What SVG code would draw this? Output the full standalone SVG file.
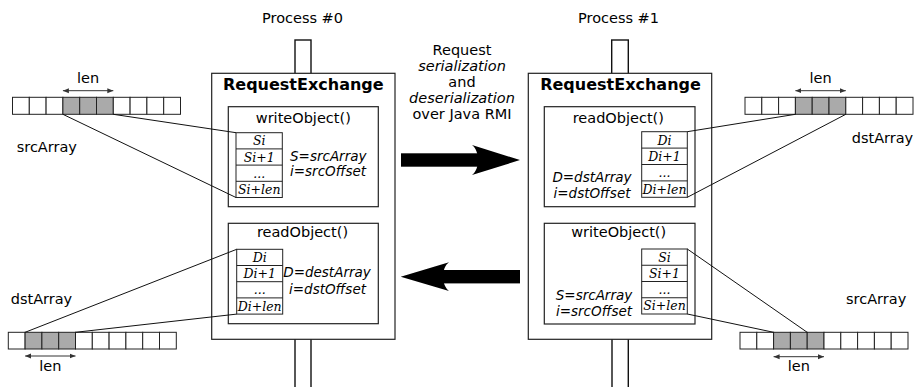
<svg xmlns="http://www.w3.org/2000/svg" width="914" height="387" viewBox="0 0 914 387">
<style>
text{font-family:"DejaVu Sans","Liberation Sans",sans-serif;fill:#000}
.lbl{font-size:14.5px}
.mid{text-anchor:middle}
.ti{font-size:16px;font-weight:bold;text-anchor:middle}
.it{font-style:italic;font-size:13.5px}
.cell{font-family:"DejaVu Serif","Liberation Serif",serif;font-style:italic;font-size:12.5px;text-anchor:middle}
.box{fill:#fff;stroke:#222;stroke-width:1.2}
.tab{fill:#fff;stroke:#222;stroke-width:1}
.pipe{fill:none;stroke:#111;stroke-width:1.4}
.c{fill:#fff;stroke:#222;stroke-width:1}
.g{fill:#aaa;stroke:#222;stroke-width:1}
.con{stroke:#111;stroke-width:1;fill:none}
.len{stroke:#333;stroke-width:1;fill:none;marker-start:url(#ah);marker-end:url(#ah)}
</style>
<defs>
<marker id="ah" markerUnits="userSpaceOnUse" markerWidth="7" markerHeight="6" refX="6" refY="3" orient="auto-start-reverse">
<path d="M0,0.5 L6,3 L0,5.5 Z" fill="#333"/>
</marker>
</defs>

<g id="process0">
<text class="lbl" x="262" y="23">Process #0</text>
<rect class="pipe" x="295" y="40" width="16" height="34"/>
<path class="pipe" d="M295,339 V387 M311,339 V387"/>
<rect class="box" x="211.7" y="73.3" width="183.3" height="266"/>
<text class="ti" x="303.3" y="90">RequestExchange</text>
<g id="p0-write">
<rect class="box" x="228.3" y="106.7" width="150" height="100"/>
<text class="lbl mid" x="303.3" y="122.5">writeObject()</text>
<rect class="tab" x="236" y="132.7" width="46.3" height="64.8"/>
<path class="tab" d="M236,148.9 H282.3 M236,165.1 H282.3 M236,181.3 H282.3"/>
<text class="cell" x="259.2" y="145.3">Si</text>
<text class="cell" x="259.2" y="161.5">Si+1</text>
<text class="cell" x="259.2" y="177.7">...</text>
<text class="cell" x="259.2" y="193.9">Si+len</text>
<text class="it" x="290" y="160.5">S=srcArray</text>
<text class="it" x="290" y="176">i=srcOffset</text>
</g>
<g id="p0-read">
<rect class="box" x="228.3" y="223.3" width="150" height="100.4"/>
<text class="lbl mid" x="302.5" y="237.3">readObject()</text>
<rect class="tab" x="236.7" y="249.3" width="46" height="64.8"/>
<path class="tab" d="M236.7,265.5 H282.7 M236.7,281.7 H282.7 M236.7,297.9 H282.7"/>
<text class="cell" x="259.7" y="261.9">Di</text>
<text class="cell" x="259.7" y="278.1">Di+1</text>
<text class="cell" x="259.7" y="294.3">...</text>
<text class="cell" x="259.7" y="310.5">Di+len</text>
<text class="it mid" x="327" y="277">D=destArray</text>
<text class="it mid" x="327.5" y="293.5">i=dstOffset</text>
</g>
</g>

<g id="process1">
<text class="lbl" x="578" y="23">Process #1</text>
<rect class="pipe" x="611.7" y="40" width="16.6" height="34"/>
<path class="pipe" d="M612,339 V387 M628.3,339 V387"/>
<rect class="box" x="528.3" y="73.3" width="183.4" height="266"/>
<text class="ti" x="620.5" y="90">RequestExchange</text>
<g id="p1-read">
<rect class="box" x="544.3" y="106.7" width="150.7" height="100"/>
<text class="lbl mid" x="618.3" y="122.5">readObject()</text>
<rect class="tab" x="641.7" y="131.7" width="45.6" height="65.6"/>
<path class="tab" d="M641.7,148.1 H687.3 M641.7,164.5 H687.3 M641.7,180.9 H687.3"/>
<text class="cell" x="664.5" y="144.5">Di</text>
<text class="cell" x="664.5" y="160.9">Di+1</text>
<text class="cell" x="664.5" y="177.3">...</text>
<text class="cell" x="664.5" y="193.7">Di+len</text>
<text class="it mid" x="592" y="182">D=dstArray</text>
<text class="it mid" x="592" y="197.7">i=dstOffset</text>
</g>
<g id="p1-write">
<rect class="box" x="544.3" y="223.3" width="150.7" height="100.7"/>
<text class="lbl mid" x="618.7" y="237.3">writeObject()</text>
<rect class="tab" x="641.7" y="249" width="45.6" height="65"/>
<path class="tab" d="M641.7,265.25 H687.3 M641.7,281.5 H687.3 M641.7,297.75 H687.3"/>
<text class="cell" x="664.5" y="261.6">Si</text>
<text class="cell" x="664.5" y="277.8">Si+1</text>
<text class="cell" x="664.5" y="294.1">...</text>
<text class="cell" x="664.5" y="310.3">Si+len</text>
<text class="it mid" x="594" y="300">S=srcArray</text>
<text class="it mid" x="594" y="316">i=srcOffset</text>
</g>
</g>

<g id="transport">
<text class="lbl mid" x="462" y="55">Request</text>
<text class="lbl mid" x="462" y="71" font-style="italic">serialization</text>
<text class="lbl mid" x="462" y="87">and</text>
<text class="lbl mid" x="462" y="103" font-style="italic">deserialization</text>
<text class="lbl mid" x="462" y="119">over Java RMI</text>
<g id="arrow-right">
<rect x="401" y="153.3" width="79" height="13.4" fill="#000"/>
<path d="M520,160 L472,145 C480,151 480,169 472,175 Z" fill="#000"/>
</g>
<g id="arrow-left">
<rect x="442" y="270" width="78" height="13.4" fill="#000"/>
<path d="M400.7,276.7 L449,262.3 C441,268 441,285 449,291 Z" fill="#000"/>
</g>
</g>

<g id="srcArray-0">
<rect class="c" x="12.5" y="97.3" width="16.8" height="17"/>
<rect class="c" x="29.3" y="97.3" width="16.8" height="17"/>
<rect class="c" x="46.1" y="97.3" width="16.8" height="17"/>
<rect class="g" x="62.9" y="97.3" width="16.8" height="17"/>
<rect class="g" x="79.7" y="97.3" width="16.8" height="17"/>
<rect class="g" x="96.5" y="97.3" width="16.8" height="17"/>
<rect class="c" x="113.3" y="97.3" width="16.8" height="17"/>
<rect class="c" x="130.1" y="97.3" width="16.8" height="17"/>
<rect class="c" x="146.9" y="97.3" width="16.8" height="17"/>
<rect class="c" x="163.7" y="97.3" width="16.8" height="17"/>
<path class="len" d="M62.9,90.7 H113.3"/>
<text class="lbl mid" x="88.1" y="83">len</text>
<text class="lbl" x="16.7" y="151.7">srcArray</text>
</g>

<g id="dstArray-0">
<rect class="c" x="8.3" y="332.3" width="16.8" height="16.7"/>
<rect class="g" x="25.1" y="332.3" width="16.8" height="16.7"/>
<rect class="g" x="41.9" y="332.3" width="16.8" height="16.7"/>
<rect class="g" x="58.7" y="332.3" width="16.8" height="16.7"/>
<rect class="c" x="75.5" y="332.3" width="16.8" height="16.7"/>
<rect class="c" x="92.3" y="332.3" width="16.8" height="16.7"/>
<rect class="c" x="109.1" y="332.3" width="16.8" height="16.7"/>
<rect class="c" x="125.9" y="332.3" width="16.8" height="16.7"/>
<rect class="c" x="142.7" y="332.3" width="16.8" height="16.7"/>
<rect class="c" x="159.5" y="332.3" width="16.8" height="16.7"/>
<path class="len" d="M25.1,356 H75.5"/>
<text class="lbl mid" x="50.3" y="370.5">len</text>
<text class="lbl" x="10.7" y="304">dstArray</text>
</g>

<g id="dstArray-1">
<rect class="c" x="745" y="97.3" width="16.8" height="17"/>
<rect class="c" x="761.8" y="97.3" width="16.8" height="17"/>
<rect class="c" x="778.6" y="97.3" width="16.8" height="17"/>
<rect class="g" x="795.4" y="97.3" width="16.8" height="17"/>
<rect class="g" x="812.2" y="97.3" width="16.8" height="17"/>
<rect class="g" x="829" y="97.3" width="16.8" height="17"/>
<rect class="c" x="845.8" y="97.3" width="16.8" height="17"/>
<rect class="c" x="862.6" y="97.3" width="16.8" height="17"/>
<rect class="c" x="879.4" y="97.3" width="16.8" height="17"/>
<rect class="c" x="896.2" y="97.3" width="16.8" height="17"/>
<path class="len" d="M795.4,90.7 H845.8"/>
<text class="lbl mid" x="820.6" y="83">len</text>
<text class="lbl" x="851.7" y="143.3">dstArray</text>
</g>

<g id="srcArray-1">
<rect class="c" x="740" y="332.3" width="16.8" height="16.7"/>
<rect class="c" x="756.8" y="332.3" width="16.8" height="16.7"/>
<rect class="g" x="773.6" y="332.3" width="16.8" height="16.7"/>
<rect class="g" x="790.4" y="332.3" width="16.8" height="16.7"/>
<rect class="g" x="807.2" y="332.3" width="16.8" height="16.7"/>
<rect class="c" x="824" y="332.3" width="16.8" height="16.7"/>
<rect class="c" x="840.8" y="332.3" width="16.8" height="16.7"/>
<rect class="c" x="857.6" y="332.3" width="16.8" height="16.7"/>
<rect class="c" x="874.4" y="332.3" width="16.8" height="16.7"/>
<rect class="c" x="891.2" y="332.3" width="16.8" height="16.7"/>
<path class="len" d="M773.6,356.7 H824"/>
<text class="lbl mid" x="798.8" y="370.5">len</text>
<text class="lbl" x="846" y="304">srcArray</text>
</g>

<g id="connectors">
<path class="con" d="M113.3,114.3 L236,132.7"/>
<path class="con" d="M62.9,114.3 L236,197.5"/>
<path class="con" d="M25.1,332.3 L236.7,249.3"/>
<path class="con" d="M75.5,332.3 L236.7,314.1"/>
<path class="con" d="M795.4,114.3 L687.3,131.7"/>
<path class="con" d="M845.8,114.3 L687.3,197.3"/>
<path class="con" d="M807.2,332.3 L687.3,249"/>
<path class="con" d="M773.6,332.3 L687.3,314"/>
</g>
</svg>
